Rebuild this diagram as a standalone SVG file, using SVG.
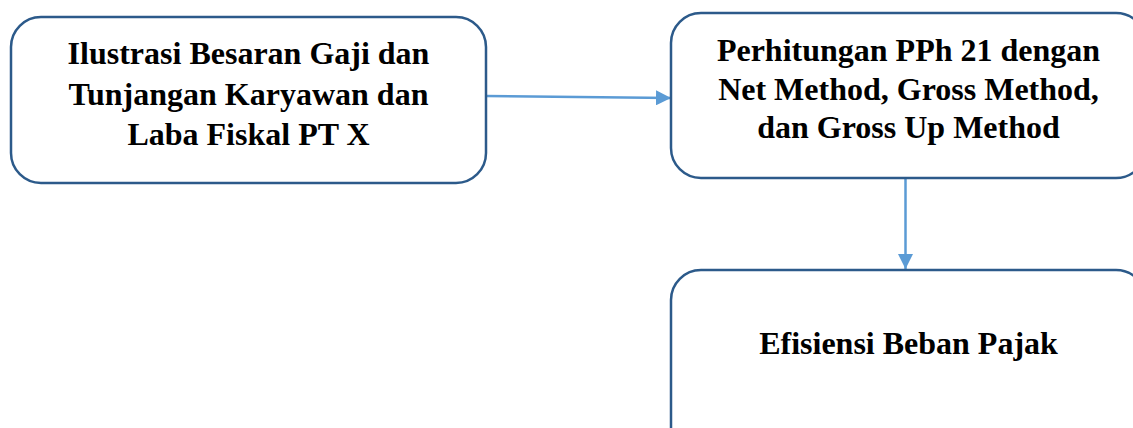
<svg xmlns="http://www.w3.org/2000/svg" width="1133" height="428" viewBox="0 0 1133 428">
  <style>
    .box { fill: #ffffff; stroke: #2c5a8a; stroke-width: 2.5; }
    .label { font-family: "Liberation Serif", "Times New Roman", serif; font-weight: bold; font-size: 32px; fill: #000000; text-anchor: middle; }
    .link { stroke: #5b9bd5; stroke-width: 2.5; fill: none; }
  </style>
  <defs>
    <marker id="arrow" viewBox="0 0 10 10" refX="10" refY="5" markerWidth="6" markerHeight="6" orient="auto" markerUnits="strokeWidth">
      <path d="M0,0 L10,5 L0,10 Z" fill="#5b9bd5"/>
    </marker>
  </defs>
  <rect width="1133" height="428" fill="#ffffff"/>

  <g id="connectors">
    <line class="link" x1="486" y1="96" x2="671" y2="98" marker-end="url(#arrow)"/>
    <line class="link" x1="905.5" y1="178" x2="905.5" y2="269" marker-end="url(#arrow)"/>
  </g>

  <g id="node-ilustrasi">
    <rect class="box" x="11" y="17" width="475" height="166" rx="30" ry="30"/>
    <text class="label" x="248.5" y="64">Ilustrasi Besaran Gaji dan</text>
    <text class="label" x="248.5" y="105">Tunjangan Karyawan dan</text>
    <text class="label" x="248.5" y="145">Laba Fiskal PT X</text>
  </g>

  <g id="node-perhitungan">
    <rect class="box" x="671" y="13" width="475" height="165" rx="30" ry="30"/>
    <text class="label" x="908.5" y="61">Perhitungan PPh 21 dengan</text>
    <text class="label" x="908.5" y="100">Net Method, Gross Method,</text>
    <text class="label" x="908.5" y="138">dan Gross Up Method</text>
  </g>

  <g id="node-efisiensi">
    <rect class="box" x="671" y="270" width="475" height="200" rx="30" ry="30"/>
    <text class="label" x="908.5" y="354">Efisiensi Beban Pajak</text>
  </g>
</svg>
